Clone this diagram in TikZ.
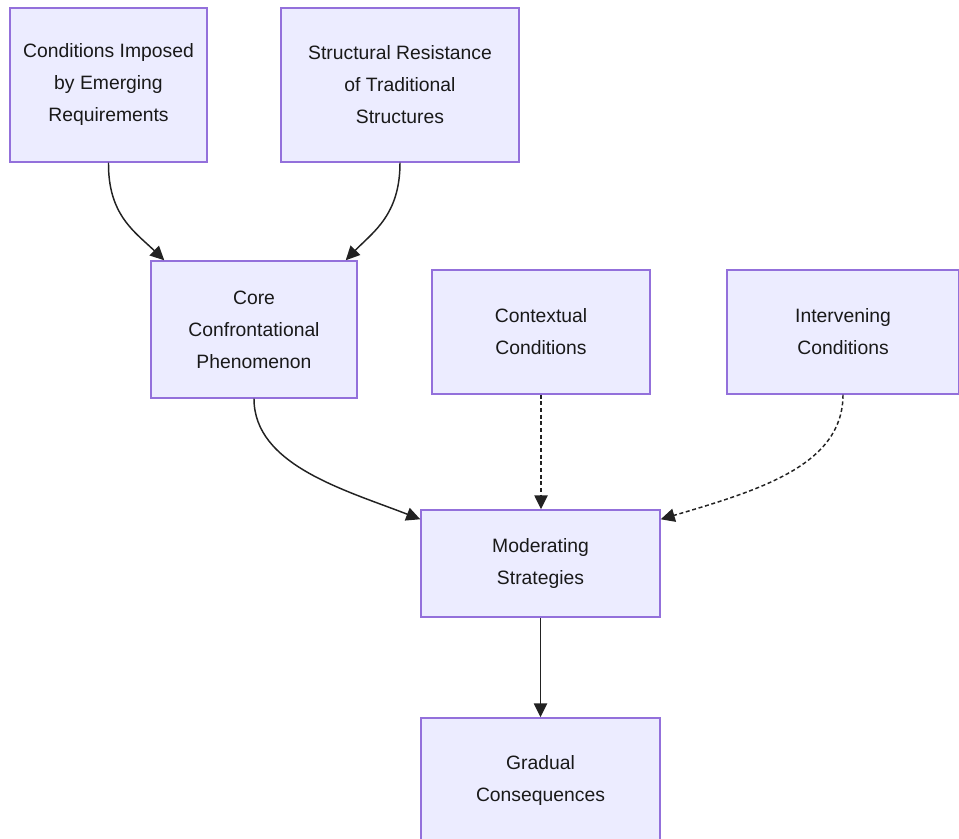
\documentclass[tikz,border=0pt]{standalone}
\usepackage{fontspec}
\setmainfont{Liberation Sans}
\usetikzlibrary{arrows.meta,calc}
\definecolor{boxfill}{HTML}{ECECFF}
\definecolor{boxdraw}{HTML}{9370DB}
\definecolor{edgecol}{HTML}{222222}
\tikzset{
  box/.style={draw=boxdraw, fill=boxfill, line width=1.1pt, align=center,
    font=\fontsize{14.5pt}{24pt}\selectfont, text=black!90, inner sep=0pt},
  flow/.style={draw=edgecol, line width=1.1pt, -{Triangle[length=10.5pt,width=10pt]}},
  dflow/.style={flow, dash pattern=on 3pt off 2pt},
}
\begin{document}
\begin{tikzpicture}[x=0.75pt,y=-0.75pt]
\useasboundingbox (0,0) rectangle (959,838);
\node[box, minimum width=197*0.75pt, minimum height=154*0.75pt] (b1) at (108.5,85) {Conditions Imposed\\by Emerging\\Requirements};
\node[box, minimum width=238*0.75pt, minimum height=154*0.75pt] (b2) at (400,85) {Structural Resistance\\of Traditional\\Structures};
\node[box, minimum width=206*0.75pt, minimum height=137*0.75pt] (b3) at (254,329.5) {Core\\Confrontational\\Phenomenon};
\node[box, minimum width=218*0.75pt, minimum height=124*0.75pt] (b4) at (541,332) {Contextual\\Conditions};
\node[box, minimum width=232*0.75pt, minimum height=124*0.75pt] (b5) at (843,332) {Intervening\\Conditions};
\node[box, minimum width=239*0.75pt, minimum height=107*0.75pt] (b6) at (540.5,563.5) {Moderating\\Strategies};
\node[box, minimum width=239*0.75pt, minimum height=124*0.75pt] (b7) at (540.5,780) {Gradual\\Consequences};
\draw[flow] (b1.south) .. controls (108,215) and (135,232) .. ($(b3.north west)+(14,0)$);
\draw[flow] (b2.south) .. controls (400,215) and (373,232) .. ($(b3.north east)+(-12,0)$);
\draw[flow] (b3.south) .. controls (254,465) and (345,490) .. ($(b6.north west)+(0,10)$);
\draw[dflow] (b4.south) -- (b6.north -| b4.south);
\draw[dflow] (b5.south) .. controls (843,465) and (760,490) .. ($(b6.north east)+(0,10)$);
\draw[flow] (b6.south) -- (b7.north);
\end{tikzpicture}
\end{document}
